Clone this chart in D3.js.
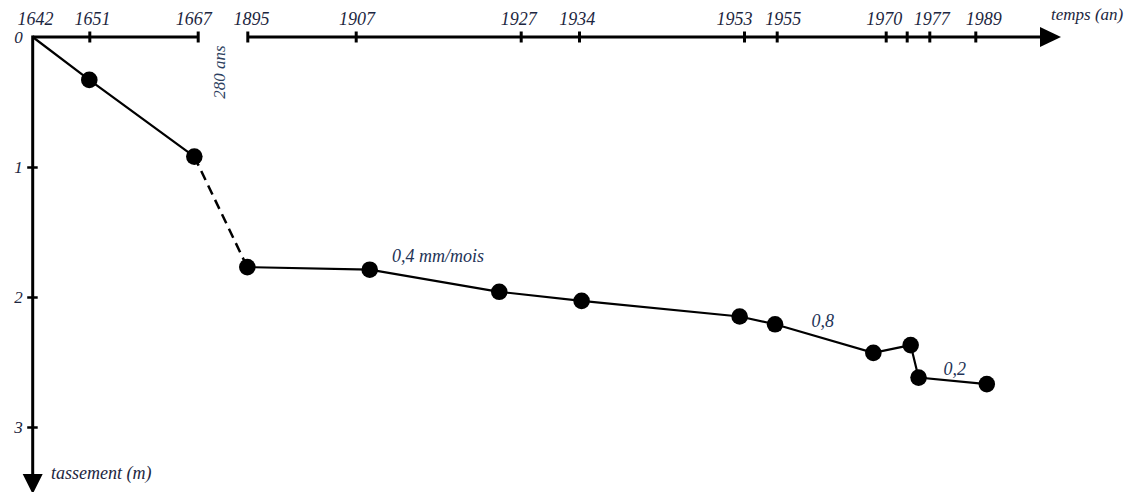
<!DOCTYPE html>
<html><head><meta charset="utf-8">
<script src="https://cdn.jsdelivr.net/npm/d3@7"></script>
<style>
body{margin:0;background:#fff}
svg text{font-family:"Liberation Serif","DejaVu Serif",serif !important;font-style:italic}
</style>
</head><body>
<svg id="c" width="1134" height="492"></svg>
<script>
// ---- data ----
const earlyTickYears = [1642, 1651, 1667];
const earlyTickLabels = ["1642", "1651", "1667"];
const modernTickYears = [1895, 1907, 1927, 1934, 1953, 1955, 1970, 1973, 1977, 1989];
const modernTickLabels = ["1895", "1907", "1927", "1934", "1953", "1955", "1970", "", "1977", "1989"];
const settlementTicks = [0, 1, 2, 3];
const earlyYears = [1642, 1651, 1666.5];
const earlySettlement = [0, 0.33, 0.92];
const modernYears = [1895, 1908.7, 1924.4, 1934.3, 1952.5, 1954.9, 1968.3, 1973.7, 1975.1, 1992];
const modernSettlement = [1.77, 1.79, 1.96, 2.03, 2.15, 2.21, 2.43, 2.37, 2.62, 2.67];
const rateLabels = ["0,4 mm/mois", "0,8", "0,2"];
const rateYears = [1911.4, 1959.8, 1980.7];
const rateSettlement = [1.73, 2.23, 2.6];
const gapLabel = "280 ans";
const xTitle = "temps (an)";
const yTitle = "tassement (m)";

// ---- layout / scales ----
const FONT = "'Liberation Serif', 'DejaVu Serif', serif";
const svg = d3.select("#c");
const ink = "#000", txt = "#1c2640";
const xEarly = d3.scaleLinear().domain(earlyTickYears).range([32.7, 89.3, 197.7]);
const xModern = d3.scaleLinear().domain(modernTickYears)
  .range([247.3, 355.7, 520.7, 579, 744, 776.7, 885.7, 906.7, 929.3, 975.3]);
const earlyLabelShift = [2.3, 2.7, -4.4];
const modernLabelShift = [3.7, 0.8, -2.4, -2.3, -10, 6.1, -1.9, 0, 2, 8];
const y = d3.scaleLinear().domain([0, 3]).range([37, 427]);
const axisY = y(0), axisX = xEarly(1642);

function styleText(sel, size, color) {
  sel.attr("font-family", FONT).style("font-family", FONT).style("font-style", "italic")
    .style("font-size", size + "px").attr("fill", color);
}

// x axes
function xAxis(scale, years, labels, shifts, showFirstTick) {
  const g = svg.append("g").attr("transform", `translate(0,${axisY})`)
    .call(d3.axisTop(scale).tickValues(years).tickFormat((d, i) => labels[i])
      .tickSize(0).tickPadding(12));
  g.attr("font-family", FONT);
  g.select(".domain").remove();
  styleText(g.selectAll(".tick text"), 18, txt);
  g.selectAll(".tick text").attr("x", (d, i) => shifts[i]);
  g.selectAll(".tick line").attr("y1", -5.5).attr("y2", 5.5).attr("stroke", ink).attr("stroke-width", 3)
    .attr("display", (d, i) => (i === 0 && !showFirstTick) ? "none" : null);
  return g;
}
xAxis(xEarly, earlyTickYears, earlyTickLabels, earlyLabelShift, false);
xAxis(xModern, modernTickYears, modernTickLabels, modernLabelShift, true);

svg.append("line").attr("x1", axisX).attr("x2", xEarly(1667)).attr("y1", axisY).attr("y2", axisY)
  .attr("stroke", ink).attr("stroke-width", 3);
const arrowX = 1040;
svg.append("line").attr("x1", xModern(1895)).attr("x2", arrowX).attr("y1", axisY).attr("y2", axisY)
  .attr("stroke", ink).attr("stroke-width", 3);
svg.append("path").attr("d", `M${arrowX},${axisY - 10}L${arrowX},${axisY + 10}L${arrowX + 21},${axisY}Z`).attr("fill", ink);

// y axis
const arrowY = 474;
const gy = svg.append("g").attr("transform", `translate(${axisX},0)`)
  .call(d3.axisLeft(y).tickValues(settlementTicks).tickFormat(d3.format("d")).tickSize(0).tickPadding(10));
gy.attr("font-family", FONT);
gy.select(".domain").remove();
styleText(gy.selectAll(".tick text"), 17, txt);
gy.selectAll(".tick line").attr("x1", -5.5).attr("x2", 5).attr("stroke", ink).attr("stroke-width", 2.5)
  .attr("display", (d, i) => i === 0 ? "none" : null);
svg.append("line").attr("x1", axisX).attr("x2", axisX).attr("y1", axisY - 1.5).attr("y2", arrowY)
  .attr("stroke", ink).attr("stroke-width", 3);
svg.append("path").attr("d", `M${axisX - 10},${arrowY}L${axisX + 10},${arrowY}L${axisX},${arrowY + 20}Z`).attr("fill", ink);

// titles
styleText(svg.append("text").attr("x", 1051).attr("y", 20).text(xTitle), 17, txt);
styleText(svg.append("text").attr("x", 51).attr("y", 479).text(yTitle), 18, txt);
styleText(svg.append("text").attr("transform", `translate(225,${72}) rotate(-90)`).attr("text-anchor", "middle")
  .text(gapLabel), 17, "#2d3f60");

// data lines
const earlyPts = earlyYears.map((d, i) => [xEarly(d), y(earlySettlement[i])]);
const modernPts = modernYears.map((d, i) => [xModern(d), y(modernSettlement[i])]);
const line = d3.line();
svg.append("path").attr("d", line(earlyPts)).attr("fill", "none").attr("stroke", ink).attr("stroke-width", 2.2);
svg.append("path").attr("d", line([earlyPts[earlyPts.length - 1], modernPts[0]])).attr("fill", "none")
  .attr("stroke", ink).attr("stroke-width", 2.5).attr("stroke-dasharray", "10,6");
svg.append("path").attr("d", line(modernPts)).attr("fill", "none").attr("stroke", ink).attr("stroke-width", 2.2);

// dots (no dot at origin)
svg.selectAll("circle.e").data(earlyPts.slice(1)).join("circle")
  .attr("cx", d => d[0]).attr("cy", d => d[1]).attr("r", 8.3).attr("fill", ink);
svg.selectAll("circle.m").data(modernPts).join("circle")
  .attr("cx", d => d[0]).attr("cy", d => d[1]).attr("r", 8.3).attr("fill", ink);

// rate annotations
styleText(svg.selectAll("text.rate").data(rateLabels).join("text")
  .attr("x", (d, i) => xModern(rateYears[i])).attr("y", (d, i) => y(rateSettlement[i]))
  .text(d => d), 18, "#233356");
</script>
</body></html>
